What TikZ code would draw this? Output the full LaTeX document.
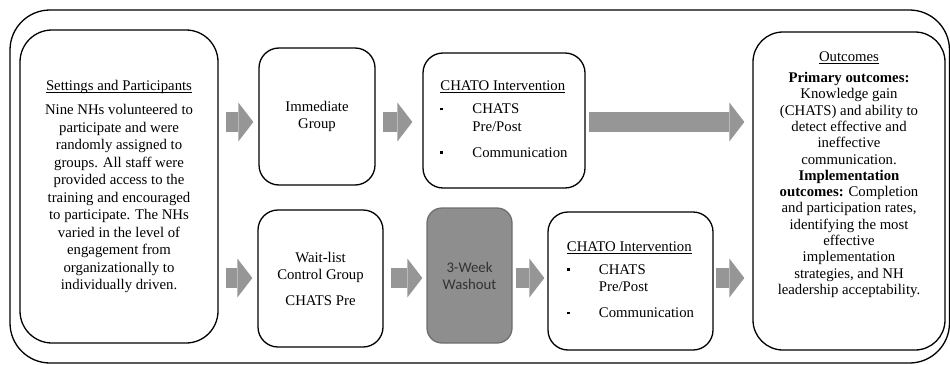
\documentclass[tikz,border=0pt]{standalone}
\usepackage{fontspec}
\setmainfont{Liberation Serif}
\newfontfamily\calibrifont{Carlito}
\usetikzlibrary{arrows.meta}

\definecolor{arrowgray}{RGB}{150,150,150}
\definecolor{washfill}{RGB}{142,142,142}
\definecolor{washdraw}{RGB}{110,110,110}
\definecolor{washtext}{RGB}{50,50,50}

% underline that sits close to the baseline
\newcommand{\hdline}[1]{\leavevmode\setbox0\hbox{#1}\rlap{\rule[-2.4pt]{\wd0}{0.8pt}}\box0}
\newcommand{\sqbullet}{\rule[3.4pt]{2.6pt}{2.6pt}}
\newcommand{\chatolist}{%
  \begin{tabular}{@{}p{32pt}@{}l@{}}
    \multicolumn{2}{@{}l@{}}{\hdline{CHATO Intervention}}\\[5.5pt]
    \sqbullet & CHATS\\
              & Pre/Post\\[8.5pt]
    \sqbullet & Communication
  \end{tabular}}

\begin{document}
\begin{tikzpicture}[x=1pt,y=-1pt]
    \tikzset{box/.style={draw,line width=1.3pt,rounded corners=20pt,inner sep=0pt,
        align=center,font=\fontsize{14.76}{17.5}\selectfont},
      blk/.style={arrowgray,line width=20pt,
        -{Triangle[length=15pt,width=39pt,line width=0pt]}}}
    \useasboundingbox (0,0) rectangle (950,364);
    % outer frame
    \draw[line width=1.3pt,rounded corners=40pt] (10,10) rectangle (949.5,363);
    \coordinate (rowA) at (0,122);
    \coordinate (rowB) at (0,278);
    % boxes
    \node[box,rounded corners=32pt,minimum width=198pt,minimum height=313pt] (setting) at (119,186.5)
      {\hdline{Settings and Participants}\\[6.5pt]
       Nine NHs volunteered to\\ participate and were\\ randomly assigned to\\
       groups. All staff were\\ provided access to the\\ training and encouraged\\
       to participate. The NHs\\ varied in the level of\\ engagement from\\
       organizationally to\\ individually driven.};
    \node[box,minimum width=116pt,minimum height=137pt] (imm) at (317,116.5) {Immediate\\Group};
    \node[box,minimum width=162pt,minimum height=135pt] (chatoA) at (504,120.5) {\chatolist};
    \node[box,minimum width=125pt,minimum height=137pt] (wait) at (320.5,278.5)
      {Wait-list\\Control Group\\[8pt]CHATS Pre};
    \node[box,rounded corners=15pt,fill=washfill,draw=washdraw,text=washtext,
      font=\calibrifont\fontsize{14.76}{17}\selectfont,
      minimum width=85pt,minimum height=135pt] (wash) at (469.5,275.5) {3-Week\\Washout};
    \node[box,minimum width=165pt,minimum height=138pt] (chatoB) at (630.5,281) {\chatolist};
    \node[box,rounded corners=30pt,minimum width=192pt,minimum height=318pt] (outc) at (849,191)
      {\begin{minipage}[c][278pt][t]{184pt}\centering\fontsize{14.76}{16.3}\selectfont
       \hdline{Outcomes}\\[4.5pt]
       \textbf{Primary outcomes:}\\ Knowledge gain\\ (CHATS) and ability to\\
       detect effective and\\ ineffective\\ communication.\\
       \textbf{Implementation}\\ \textbf{outcomes:} Completion\\
       and participation rates,\\ identifying the most\\ effective\\
       implementation\\ strategies, and NH\\ leadership acceptability.
       \end{minipage}};
    % block arrows
    \draw[blk,shorten <=7pt,shorten >=5pt] (setting.east |- rowA) -- (imm.west |- rowA);
    \draw[blk,shorten <=7pt,shorten >=5pt] (setting.east |- rowB) -- (wait.west |- rowB);
    \draw[blk,shorten <=7pt,shorten >=10pt] (imm.east |- rowA) -- (chatoA.west |- rowA);
    \draw[blk,shorten <=3pt,shorten >=8pt] (chatoA.east |- rowA) -- (outc.west |- rowA);
    \draw[blk,shorten <=7pt,shorten >=4pt] (wait.east |- rowB) -- (wash.west |- rowB);
    \draw[blk,shorten <=3pt,shorten >=3pt] (wash.east |- rowB) -- (chatoB.west |- rowB);
    \draw[blk,shorten <=2pt,shorten >=8pt] (chatoB.east |- rowB) -- (outc.west |- rowB);
\end{tikzpicture}
\end{document}
